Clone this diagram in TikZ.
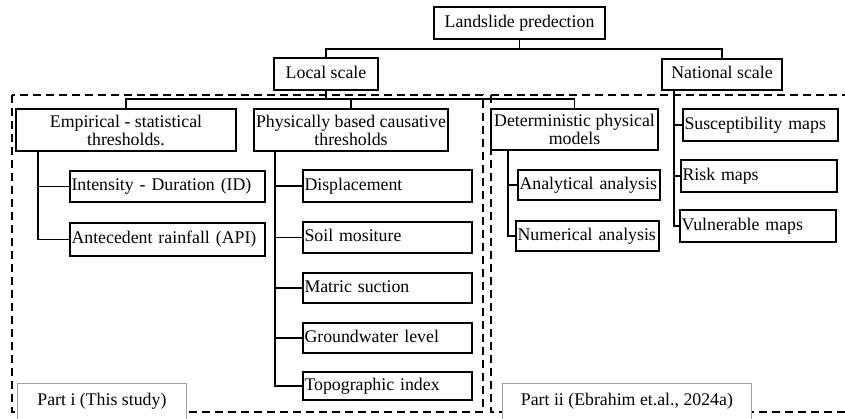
\documentclass[tikz,border=0pt]{standalone}
\usepackage{fontspec}
\setmainfont{Liberation Serif}
\begin{document}
\begin{tikzpicture}[x=1pt,y=-1pt,
  every node/.style={font=\fontsize{17.8}{18}\selectfont},
  box/.style={draw, line width=1.6pt, inner xsep=1pt, inner ysep=0pt, align=center},
  oneline/.style={text height=12.6pt, text depth=4pt},
  leaf/.style={box, oneline, align=left, inner xsep=1.5pt},
  link/.style={line width=1.6pt},
  region/.style={line width=1.6pt, dash pattern=on 8pt off 5pt},
  partbox/.style={draw=gray!75, line width=0.8pt, fill=white, anchor=north west,
    align=left, inner xsep=14pt, inner ysep=0pt, minimum height=36pt, text height=12.6pt, text depth=4pt}]
\useasboundingbox (0,0) rectangle (845,418);
\clip (0,0) rectangle (845,418);

% dashed frames of the two parts
\draw[region] (12,95) rectangle (483,412);
\draw[region] (491,95) rectangle (880,412);

% top levels
\node[box, oneline, minimum width=171pt, minimum height=32pt] (root) at (519.5,23) {Landslide predection};
\node[box, oneline, minimum width=104pt, minimum height=32pt] (local) at (326,74) {Local scale};
\node[box, oneline, minimum width=120pt, minimum height=31pt] (national) at (722,74.5) {National scale};

% method groups
\node[box, minimum width=220pt, minimum height=42pt] (emp) at (126,130) {Empirical - statistical\\thresholds.};
\node[box, minimum width=194pt, minimum height=42pt] (phys) at (351,130) {Physically based causative\\thresholds};
\node[box, minimum width=167pt, minimum height=41pt] (det) at (574.5,129.5) {Deterministic physical\\models};

% empirical thresholds
\node[leaf, text width=192pt, minimum height=31pt] (int) at (167.5,186.5) {Intensity - Duration (ID)};
\node[leaf, text width=192pt, minimum height=33pt] (ant) at (167.5,239.5) {Antecedent rainfall (API)};

% physically based thresholds
\node[leaf, text width=166pt, minimum height=32pt] (disp) at (387.5,186) {Displacement};
\node[leaf, text width=166pt, minimum height=31pt] (soil) at (387.5,237.5) {Soil mositure};
\node[leaf, text width=166pt, minimum height=30pt] (mat) at (387.5,288) {Matric suction};
\node[leaf, text width=166pt, minimum height=30pt] (gw) at (387.5,338) {Groundwater level};
\node[leaf, text width=166pt, minimum height=28pt] (topo) at (387.5,386) {Topographic index};

% deterministic models
\node[leaf, text width=139pt, minimum height=30pt] (anal) at (589,185) {Analytical analysis};
\node[leaf, text width=140pt, minimum height=30pt] (num) at (587.5,236) {Numerical analysis};

% national scale maps
\node[leaf, text width=152pt, minimum height=32pt] (sus) at (760.5,125) {Susceptibility maps};
\node[leaf, text width=153pt, minimum height=32pt] (risk) at (759,176) {Risk maps};
\node[leaf, text width=153pt, minimum height=32pt] (vul) at (758,226) {Vulnerable maps};

% junctions and trunk lines
\coordinate (j1) at (519.5,49);
\coordinate (j2) at (326,99);
\coordinate (ebus) at (38,0);
\coordinate (pbus) at (275,0);
\coordinate (dbus) at (508,0);
\coordinate (nbus) at (674,0);

\draw[link] (root.south) -- (j1);
\draw[link] (local.north) |- (j1) -| (national.north);
\draw[link] (local.south) -- (j2);
\draw[link] (emp.north) |- (det.north |- j2) -- (det.north);
\draw[link] (phys.north) -- (phys.north |- j2);

\draw[link] (ebus |- emp.south) |- (ant.west);
\draw[link] (ebus |- int.west) -- (int.west);

\draw[link] (pbus |- phys.south) |- (topo.west);
\foreach \n in {disp,soil,mat,gw} \draw[link] (pbus |- \n.west) -- (\n.west);

\draw[link] (dbus |- det.south) |- (num.west);
\draw[link] (dbus |- anal.west) -- (anal.west);

\draw[link] (nbus |- national.south) |- (vul.west);
\foreach \n in {sus,risk} \draw[link] (nbus |- \n.west) -- (\n.west);

% part labels
\node[partbox, minimum width=169pt] (parti) at (17,383) {Part i (This study)};
\node[partbox, minimum width=249pt] (partii) at (502,383) {Part ii (Ebrahim et.al., 2024a)};
\end{tikzpicture}
\end{document}
